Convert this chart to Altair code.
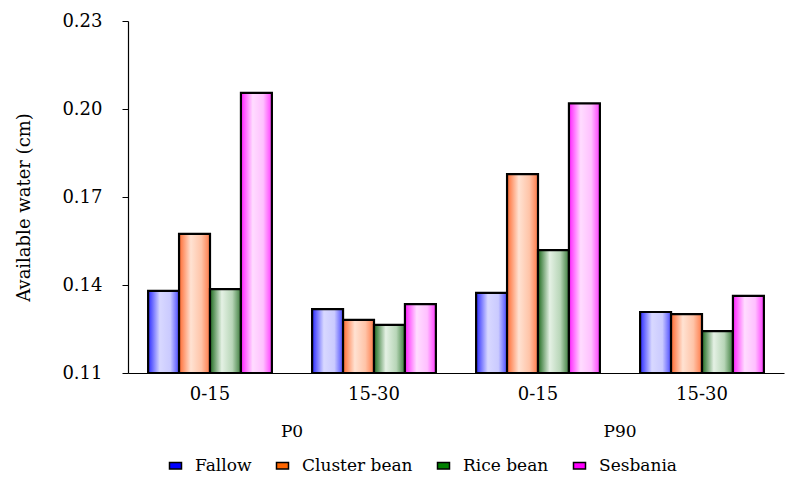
import altair as alt
import pandas as pd

# Treatments: phosphorus level and soil depth (cm)
phosphorus = ["P0", "P0", "P90", "P90"]
depths = ["0-15", "15-30", "0-15", "15-30"]
series = ["Fallow", "Cluster bean", "Rice bean", "Sesbania"]

# Available water (cm) per crop, one value per treatment
fallow = [0.1380, 0.1318, 0.1373, 0.1308]
cluster_bean = [0.1574, 0.1281, 0.1778, 0.1301]
rice_bean = [0.1386, 0.1264, 0.1519, 0.1243]
sesbania = [0.2055, 0.1335, 0.2019, 0.1363]

legend_colors = ["#0000ff", "#ff6600", "#008000", "#ff00ff"]

groups = [f"{p} {d}" for p, d in zip(phosphorus, depths)]
values = {"Fallow": fallow, "Cluster bean": cluster_bean,
          "Rice bean": rice_bean, "Sesbania": sesbania}
rows = []
for s in series:
    for g, v in zip(groups, values[s]):
        rows.append({"group": g, "series": s, "value": v})
df = pd.DataFrame(rows)

levels = pd.DataFrame({"group": [groups[1], groups[3]], "level": ["P0", "P90"]})

W, H = 656, 352
FONT = "DejaVu Serif"

# Cylinder-like horizontal shading for each crop
shades = {
    "Fallow": ["#2a2aff", "#d8d8ff", "#cacaff", "#4a4aff"],
    "Cluster bean": ["#ff6a30", "#ffe2d2", "#ffc4a8", "#ff7a48"],
    "Rice bean": ["#1e6a1e", "#e4f1e4", "#b8d6b8", "#3c7c3c"],
    "Sesbania": ["#ff1eff", "#ffdcff", "#ffc0ff", "#ff3cff"],
}
offsets = [0.0, 0.38, 0.72, 1.0]

x_scale = alt.Scale(domain=groups, paddingInner=0, paddingOuter=0)
x_axis = alt.Axis(title=None, labelExpr="split(datum.label, ' ')[1]",
                  labelAngle=0, ticks=False, labelPadding=12)
x_enc = alt.X("group:N", sort=groups, scale=x_scale, axis=x_axis)
xoff_enc = alt.XOffset(
    "series:N", sort=series,
    scale=alt.Scale(domain=series, paddingOuter=0.65, paddingInner=0),
)
y_scale = alt.Scale(domain=[0.11, 0.23], nice=False, zero=False)
y_axis = alt.Axis(values=[0.11, 0.14, 0.17, 0.20, 0.23], format=".2f",
                  grid=False, title="Available water (cm)", titleY=186)
y_enc = alt.Y("value:Q", scale=y_scale, axis=y_axis)

layers = []
for s in series:
    grad = alt.LinearGradient(
        gradient="linear", x1=0, x2=1, y1=0, y2=0,
        stops=[alt.GradientStop(offset=o, color=c) for o, c in zip(offsets, shades[s])],
    )
    layers.append(
        alt.Chart(df).transform_filter(alt.datum.series == s)
        .mark_bar(fill=grad, stroke="black", strokeWidth=2.2)
        .encode(x=x_enc, xOffset=xoff_enc, y=y_enc, y2=alt.Y2(datum=0.11))
    )

# Zero-height bars carrying the colour legend
legend_layer = alt.Chart(df).mark_bar(strokeWidth=0).encode(
    x=x_enc, xOffset=xoff_enc,
    y=alt.Y(datum=0.11, scale=y_scale, axis=y_axis), y2=alt.Y2(datum=0.11),
    color=alt.Color(
        "series:N", sort=series,
        scale=alt.Scale(domain=series, range=legend_colors),
        legend=alt.Legend(title=None, orient="none", direction="horizontal",
                          columns=4, legendX=39, legendY=436,
                          labelFont=FONT, labelFontSize=17, columnPadding=21),
    ),
)

level_text = alt.Chart(levels).mark_text(
    font=FONT, fontSize=17, color="black", baseline="middle"
).encode(
    x=alt.X("group:N", sort=groups, bandPosition=0, scale=x_scale, axis=x_axis),
    y=alt.value(H + 59),
    text="level:N",
)

chart = alt.layer(legend_layer, *layers, level_text).properties(
    width=W, height=H,
    autosize=alt.AutoSizeParams(type="none"),
    padding={"left": 128, "top": 21, "right": 17, "bottom": 107},
).configure_view(stroke=None).configure_axis(
    labelFont=FONT, titleFont=FONT, labelColor="black", titleColor="black",
    labelFontSize=18, titleFontSize=18, titleFontWeight="normal",
    domainColor="black", domainWidth=1.2, tickColor="black",
).configure_axisY(
    tickSize=6, labelPadding=20, titlePadding=28,
).configure_legend(
    padding=0, labelColor="black", labelOffset=11,
    symbolType="M-1,-0.55H1V0.55H-1Z", symbolSize=144,
    symbolStrokeColor="black", symbolStrokeWidth=1.5, symbolOpacity=1,
)

chart.save("out.html", embed_options={"renderer": "svg", "actions": False})
